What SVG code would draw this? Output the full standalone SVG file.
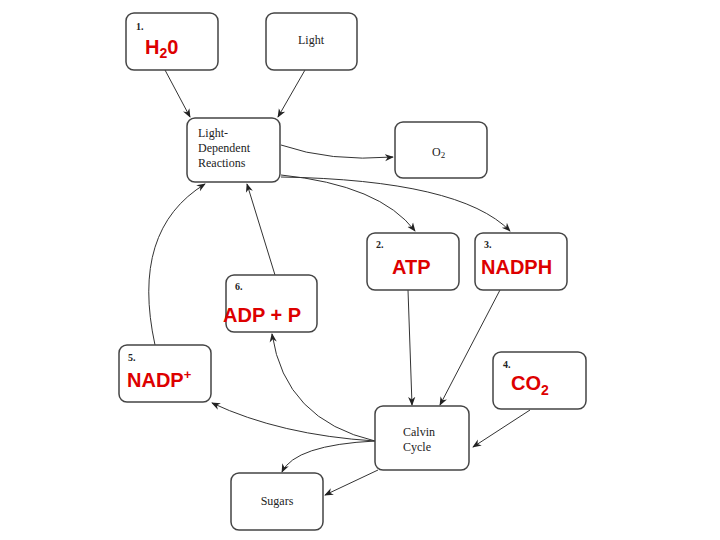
<svg xmlns="http://www.w3.org/2000/svg" width="720" height="540" viewBox="0 0 720 540">
<style>
.b{fill:#fff;stroke:#444;stroke-width:1.5}
.s{font-family:"Liberation Serif",serif;font-size:12px;fill:#222}
.n{font-family:"Liberation Serif",serif;font-size:10px;font-weight:bold;fill:#222}
.r{font-family:"Liberation Sans",sans-serif;font-size:20px;font-weight:bold;fill:#d00;}
.c path{fill:none;stroke:#333;stroke-width:1;marker-end:url(#a)}
</style>
<defs><marker id="a" viewBox="0 0 10 10" refX="9" refY="5" markerWidth="9" markerHeight="9" orient="auto" markerUnits="userSpaceOnUse"><path d="M0,1 L10,5 L0,9 L3,5z" fill="#222"/></marker></defs>
<rect width="720" height="540" fill="#fff"/>
<g class="c">
<path d="M165,70 L190,117"/>
<path d="M305,70 L278,117"/>
<path d="M281,145 Q330,162 393,157"/>
<path d="M281,175 Q380,185 415,231"/>
<path d="M281,177 Q460,180 510,231"/>
<path d="M408,290 L412,405"/>
<path d="M500,290 L440,405"/>
<path d="M530,410 L473,447"/>
<path d="M375,441 Q280,435 212,403"/>
<path d="M375,441 Q285,420 272,334"/>
<path d="M375,441 Q295,445 282,472"/>
<path d="M378,470 L325,495"/>
<path d="M155,345 Q130,230 205,184"/>
<path d="M275,275 L247,184"/>
</g>
<g id="h2o"><rect class="b" x="126" y="13" width="92" height="57" rx="8"/><text class="n" x="136" y="30">1.</text><text class="r" x="145" y="54">H<tspan font-size="14" dy="4">2</tspan><tspan dy="-4">0</tspan></text></g>
<g id="light"><rect class="b" x="266" y="13" width="91" height="57" rx="8"/><text class="s" x="311" y="44" text-anchor="middle">Light</text></g>
<g id="ldr"><rect class="b" x="187" y="118" width="93" height="64" rx="8"/><text class="s" x="198" y="137">Light-</text><text class="s" x="198" y="152">Dependent</text><text class="s" x="198" y="167">Reactions</text></g>
<g id="o2"><rect class="b" x="395" y="122" width="92" height="56" rx="8"/><text class="s" x="432" y="156">O<tspan font-size="9" dy="2">2</tspan></text></g>
<g id="atp"><rect class="b" x="367" y="233" width="92" height="57" rx="8"/><text class="n" x="376" y="248">2.</text><text class="r" x="392" y="274">ATP</text></g>
<g id="nadph"><rect class="b" x="475" y="233" width="92" height="57" rx="8"/><text class="n" x="484" y="248">3.</text><text class="r" x="481" y="274">NADPH</text></g>
<g id="adp"><rect class="b" x="226" y="275" width="91" height="57" rx="8"/><text class="n" x="235" y="290">6.</text><text class="r" x="223" y="322">ADP + P</text></g>
<g id="nadp"><rect class="b" x="119" y="345" width="92" height="57" rx="8"/><text class="n" x="128" y="361">5.</text><text class="r" x="127" y="387">NADP<tspan font-size="13" dy="-8">+</tspan></text></g>
<g id="co2"><rect class="b" x="493" y="352" width="93" height="57" rx="8"/><text class="n" x="503" y="368">4.</text><text class="r" x="511" y="390">CO<tspan font-size="14" dy="5">2</tspan></text></g>
<g id="calvin"><rect class="b" x="375" y="406" width="94" height="64" rx="8"/><text class="s" x="403" y="436">Calvin</text><text class="s" x="403" y="451">Cycle</text></g>
<g id="sugars"><rect class="b" x="231" y="473" width="92" height="57" rx="8"/><text class="s" x="277" y="505" text-anchor="middle">Sugars</text></g>
</svg>
